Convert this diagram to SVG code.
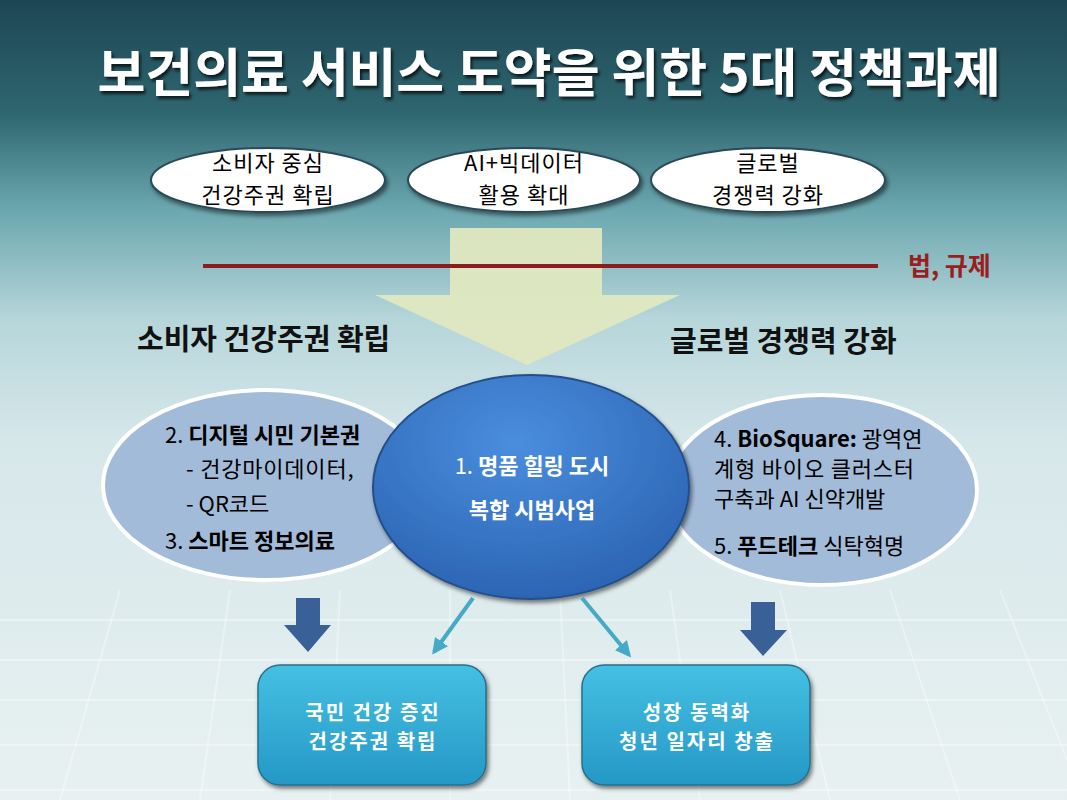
<svg xmlns="http://www.w3.org/2000/svg" width="1067" height="800" viewBox="0 0 1067 800">
<defs>
<linearGradient id="bg" x1="0" y1="0" x2="0" y2="1">
<stop offset="0" stop-color="#1d4653"/>
<stop offset="0.14" stop-color="#2e6670"/>
<stop offset="0.26" stop-color="#6aa6ae"/>
<stop offset="0.4" stop-color="#b6d6da"/>
<stop offset="0.55" stop-color="#d6e7ea"/>
<stop offset="1" stop-color="#e8f1f1"/>
</linearGradient>
<radialGradient id="cen" cx="0.45" cy="0.3" r="0.75">
<stop offset="0" stop-color="#4a8ede"/>
<stop offset="1" stop-color="#2a62b0"/>
</radialGradient>
<linearGradient id="box" x1="0" y1="0" x2="0" y2="1">
<stop offset="0" stop-color="#45c0e2"/>
<stop offset="1" stop-color="#2598c6"/>
</linearGradient>
<filter id="sh" x="-10%" y="-10%" width="130%" height="140%">
<feDropShadow dx="2" dy="3" stdDeviation="2" flood-color="#000" flood-opacity="0.5"/>
</filter>
<filter id="tsh" x="-5%" y="-20%" width="110%" height="150%">
<feDropShadow dx="2" dy="3" stdDeviation="1.5" flood-color="#000" flood-opacity="0.7"/>
</filter>
<marker id="cy" viewBox="0 0 10 10" refX="8" refY="5" markerWidth="4" markerHeight="4" orient="auto">
<path d="M0,0 L10,5 L0,10 z" fill="#45aac6"/>
</marker>
</defs>
<style>
text{font-family:"Noto Sans CJK KR","Noto Sans",sans-serif}
.top{font-size:22px;fill:#000;text-anchor:middle}
.hd{font-size:29px;font-weight:bold;fill:#111}
.it{font-size:22px;fill:#000}
.b{font-weight:bold}
.w{fill:#fff;font-size:22px;text-anchor:middle}
.bx{fill:#fff;font-size:20px;font-weight:bold;text-anchor:middle;letter-spacing:2px}
.topell{fill:#fff;stroke:#2a4a58;stroke-width:2}
.side{fill:#a2bbd8;stroke:#fff;stroke-width:4}
.darr{fill:#3a6098}
.rbox{fill:url(#box);stroke:#2a6f8c;stroke-width:1.5}
</style>
<rect width="1067" height="800" fill="url(#bg)"/>
<g stroke="#ffffff" stroke-opacity="0.35" stroke-width="2" fill="none">
<path d="M0,620 H1067 M0,660 H1067 M0,700 H1067 M0,745 H1067 M0,790 H1067"/>
<path d="M120,590 L60,800 M230,590 L200,800 M340,590 L330,800 M450,590 L450,800 M560,590 L570,800 M670,590 L700,800 M780,590 L830,800 M890,590 L960,800 M1000,590 L1067,760"/>
</g>
<text x="549" y="92" font-size="52" font-weight="bold" fill="#fff" text-anchor="middle" filter="url(#tsh)">보건의료 서비스 도약을 위한 5대 정책과제</text>

<g id="top1"><ellipse class="topell" cx="268" cy="180" rx="117" ry="32" filter="url(#sh)"/><text class="top" x="268" y="171" letter-spacing="1">소비자 중심</text><text class="top" x="268" y="203" letter-spacing="1">건강주권 확립</text></g>
<g id="top2"><ellipse class="topell" cx="524" cy="180" rx="116" ry="32" filter="url(#sh)"/><text class="top" x="524" y="171" letter-spacing="1">AI+빅데이터</text><text class="top" x="524" y="203" letter-spacing="1">활용 확대</text></g>
<g id="top3"><ellipse class="topell" cx="768" cy="180" rx="117" ry="32" filter="url(#sh)"/><text class="top" x="768" y="171" letter-spacing="1">글로벌</text><text class="top" x="768" y="203" letter-spacing="1">경쟁력 강화</text></g>

<g id="bigarrow"><path d="M450,228 H602 V295 H680 L527,365 L375,295 H450 Z" fill="#dfe8c0" fill-opacity="0.95"/></g>
<g id="law"><line x1="203" y1="266" x2="878" y2="266" stroke="#8e1c1c" stroke-width="4"/><text x="908" y="275" font-size="25" font-weight="bold" fill="#9a1e1e">법, 규제</text></g>

<text class="hd" x="137" y="350">소비자 건강주권 확립</text>
<text class="hd" x="670" y="352">글로벌 경쟁력 강화</text>

<g id="left"><ellipse class="side" cx="266" cy="485" rx="163" ry="95"/>
<text class="it" x="165" y="443">2. <tspan class="b">디지털 시민 기본권</tspan></text>
<text class="it" x="186" y="477" letter-spacing="0.8">- 건강마이데이터,</text>
<text class="it" x="186" y="512">- QR코드</text>
<text class="it" x="165" y="549">3. <tspan class="b">스마트 정보의료</tspan></text></g>

<g id="right"><ellipse class="side" cx="822" cy="490" rx="155" ry="95"/>
<text class="it" x="714" y="447">4. <tspan class="b">BioSquare:</tspan> 광역연</text>
<text class="it" x="714" y="477" letter-spacing="0.8">계형 바이오 클러스터</text>
<text class="it" x="714" y="507">구축과 AI 신약개발</text>
<text class="it" x="714" y="554">5. <tspan class="b">푸드테크</tspan> 식탁혁명</text></g>

<g id="center"><ellipse cx="531" cy="487" rx="158" ry="112" fill="url(#cen)" stroke="#24508a" stroke-width="2" filter="url(#sh)"/>
<text class="w" x="532" y="474">1. <tspan class="b">명품 힐링 도시</tspan></text>
<text class="w b" x="532" y="518">복합 시범사업</text></g>

<g id="connectors">
<path class="darr" d="M296,598 H320 V625 H331 L308,652 L284,625 H296 Z"/>
<path class="darr" d="M751,602 H775 V630 H787 L763,656 L740,630 H751 Z"/>
<line x1="473" y1="598" x2="434" y2="652" stroke="#45aac6" stroke-width="4" marker-end="url(#cy)"/>
<line x1="582" y1="598" x2="629" y2="655" stroke="#45aac6" stroke-width="4" marker-end="url(#cy)"/>
</g>

<g id="box1"><rect class="rbox" x="258" y="665" width="228" height="120" rx="22" filter="url(#sh)"/><text class="bx" x="373" y="720">국민 건강 증진</text><text class="bx" x="373" y="749">건강주권 확립</text></g>
<g id="box2"><rect class="rbox" x="582" y="665" width="228" height="120" rx="22" filter="url(#sh)"/><text class="bx" x="697" y="720">성장 동력화</text><text class="bx" x="697" y="749">청년 일자리 창출</text></g>
</svg>
